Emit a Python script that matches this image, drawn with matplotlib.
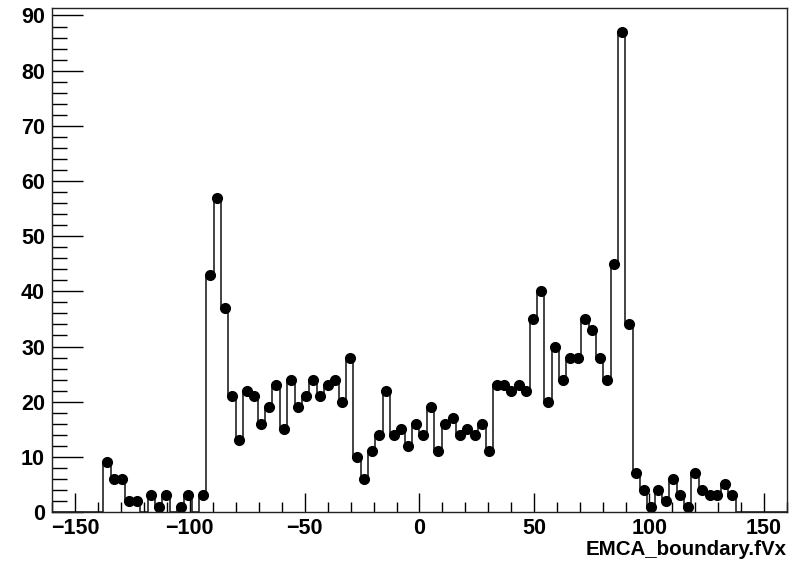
import numpy as np
import matplotlib
matplotlib.use('Agg')
import matplotlib.pyplot as plt
from matplotlib.ticker import MultipleLocator

plt.rcParams['font.family'] = ['Liberation Sans', 'DejaVu Sans']

# Гистограмма: 100 бинов от -160 до 160
x_min = -160
x_max = 160
n_bins = 100
first_bin = 7  # первый непустой бин

counts = [9, 6, 6, 2, 2, 0, 3, 1, 3, 0, 1, 3, 0, 3,
          43, 57, 37, 21, 13, 22, 21, 16, 19, 23, 15, 24, 19, 21, 24, 21, 23, 24, 20, 28,
          10, 6, 11, 14, 22, 14, 15, 12, 16, 14, 19, 11, 16, 17, 14, 15, 14, 16, 11,
          23, 23, 22, 23, 22, 35, 40, 20, 30, 24, 28, 28, 35, 33, 28, 24, 45, 87, 34,
          7, 4, 1, 4, 2, 6, 3, 1, 7, 4, 3, 3, 5, 3]

x_label = 'EMCA_boundary.fVx'

# Полный массив бинов
values = np.zeros(n_bins)
values[first_bin:first_bin + len(counts)] = counts
edges = np.linspace(x_min, x_max, n_bins + 1)
centers = 0.5 * (edges[:-1] + edges[1:])

fig = plt.figure(figsize=(7.96, 5.61), dpi=100)
ax = fig.add_axes([0.0653, 0.0873, 0.9234, 0.8984])

ax.stairs(values, edges, baseline=0, color='#222222', linewidth=1.2)
mask = values > 0
ax.plot(centers[mask], values[mask], 'o', color='black', markersize=7)

ax.set_xlim(x_min, x_max)
ax.set_ylim(0, max(counts) * 1.05)

ax.xaxis.set_major_locator(MultipleLocator(50))
ax.xaxis.set_minor_locator(MultipleLocator(10))
ax.yaxis.set_major_locator(MultipleLocator(10))
ax.yaxis.set_minor_locator(MultipleLocator(2))

ax.tick_params(axis='x', which='major', direction='in', length=14, width=1, pad=4)
ax.tick_params(axis='x', which='minor', direction='in', length=7, width=1)
ax.tick_params(axis='y', which='major', direction='in', length=22, width=1, pad=5)
ax.tick_params(axis='y', which='minor', direction='in', length=11, width=1)
ax.tick_params(labelsize=15.5)
for lab in ax.get_xticklabels() + ax.get_yticklabels():
    lab.set_fontweight('bold')

for sp in ax.spines.values():
    sp.set_color('#222222')
    sp.set_linewidth(1.0)

ax.set_xlabel(x_label, fontsize=14.8, fontweight='bold', loc='right', labelpad=1)

fig.savefig('out.png', dpi=100)
